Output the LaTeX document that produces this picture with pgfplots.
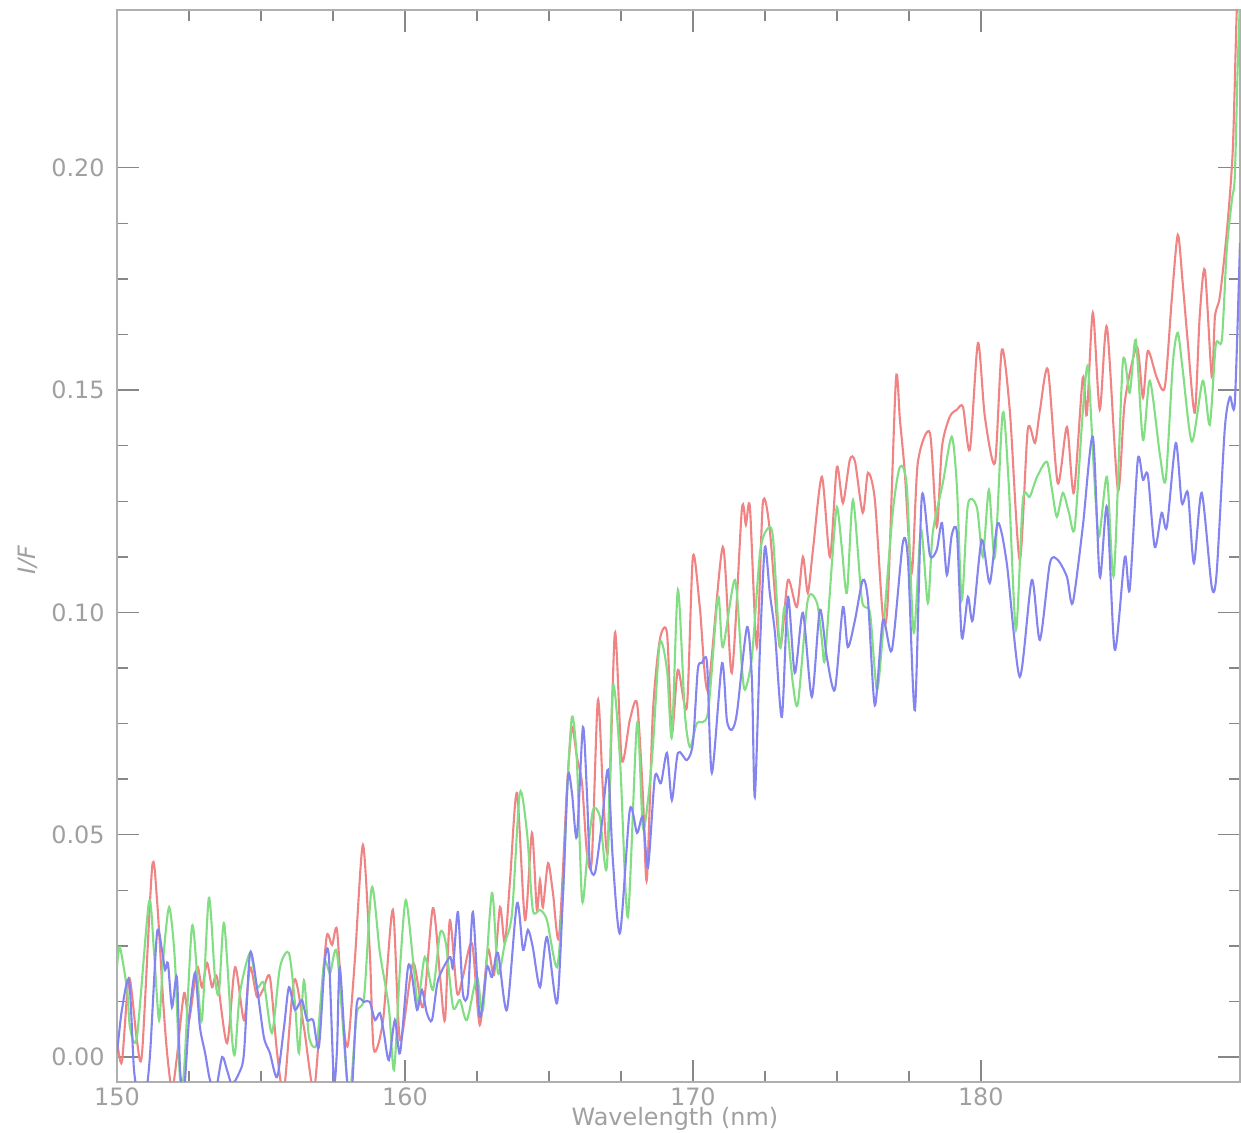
\documentclass[border=0pt]{standalone}
\usepackage{fontspec}
\setmainfont{DejaVu Sans}
\usepackage{pgfplots}
\pgfplotsset{compat=1.18}

\definecolor{redl}{RGB}{240,132,132}
\definecolor{greenl}{RGB}{130,222,130}
\definecolor{bluel}{RGB}{132,132,240}
\definecolor{axgray}{RGB}{175,175,175}
\definecolor{tkgray}{RGB}{135,135,135}
\definecolor{lbgray}{RGB}{160,160,160}

\begin{document}
\begin{tikzpicture}
\begin{axis}[
  scale only axis, width=11.23cm, height=10.72cm,
  xmin=150, xmax=189, ymin=-0.0056, ymax=0.2355,
  xtick={150,160,170,180}, minor x tick num=3,
  ytick={0,0.05,0.10,0.15,0.20}, minor y tick num=3,
  tick align=inside, major tick length=0.22cm, minor tick length=0.11cm,
  axis line style={axgray, line width=0.6pt},
  every tick/.style={tkgray, line width=0.4pt},
  /pgf/number format/assume math mode=true,
  tick label style={font=\fontsize{6.8}{8}\selectfont, text=lbgray},
  yticklabel style={/pgf/number format/fixed, /pgf/number format/fixed zerofill, /pgf/number format/precision=2},
  xticklabel style={/pgf/number format/1000 sep={}, yshift=0.07cm},
  every axis x label/.style={at={(rel axis cs:0.4968,-0.0405)}, anchor=base},
  every axis y label/.style={at={(rel axis cs:-0.0793,0.487)}, anchor=center, rotate=90},
  label style={font=\fontsize{6.8}{8}\selectfont, text=lbgray},
  xlabel={Wavelength (nm)},
  ylabel={\itshape I/F},
  every axis plot/.append style={line width=0.6pt, smooth, tension=0.45},
]
\coordinate (bbsw) at (rel axis cs:-0.1042,-0.0476);
\coordinate (bbne) at (rel axis cs:1.0009,1.0093);

\addplot[redl] table {
x y
150.00 0.0038
150.17 -0.0011
150.42 0.0178
150.69 0.0038
150.87 0.0009
151.22 0.0427
151.39 0.0353
151.60 0.0128
151.74 0.0009
151.91 -0.0074
152.08 0.0000
152.33 0.0144
152.50 0.0083
152.78 0.0202
152.95 0.0157
153.13 0.0211
153.30 0.0157
153.47 0.0180
153.82 0.0031
154.10 0.0202
154.41 0.0083
154.62 0.0202
154.86 0.0135
155.07 0.0151
155.31 0.0180
155.56 0.0009
155.80 -0.0074
156.15 0.0173
156.49 0.0067
156.84 -0.0074
157.12 0.0151
157.29 0.0274
157.47 0.0252
157.64 0.0286
157.85 0.0083
158.02 0.0027
158.26 0.0218
158.54 0.0477
158.78 0.0234
158.92 0.0016
159.24 0.0083
159.58 0.0331
159.83 0.0038
160.28 0.0211
160.63 0.0112
160.97 0.0335
161.22 0.0180
161.39 0.0083
161.56 0.0308
161.81 0.0144
162.01 0.0180
162.33 0.0256
162.60 0.0072
162.88 0.0241
163.09 0.0184
163.30 0.0337
163.47 0.0256
163.65 0.0398
163.89 0.0594
164.17 0.0308
164.41 0.0504
164.58 0.0331
164.69 0.0398
164.79 0.0337
164.97 0.0436
165.14 0.0369
165.35 0.0270
165.63 0.0607
165.80 0.0742
165.97 0.0675
166.15 0.0616
166.32 0.0459
166.49 0.0443
166.70 0.0803
166.88 0.0594
167.05 0.0466
167.29 0.0954
167.53 0.0668
167.81 0.0758
168.06 0.0796
168.26 0.0594
168.40 0.0398
168.61 0.0774
168.85 0.0938
169.10 0.0954
169.27 0.0729
169.48 0.0871
169.79 0.0787
170.00 0.1125
170.24 0.1012
170.52 0.0826
171.04 0.1147
171.35 0.0864
171.70 0.1231
171.84 0.1197
171.98 0.1237
172.22 0.0922
172.43 0.1246
172.67 0.1186
173.02 0.0922
173.30 0.1073
173.61 0.1012
173.82 0.1125
173.99 0.1044
174.17 0.1141
174.48 0.1305
174.76 0.1125
175.00 0.1327
175.21 0.1246
175.45 0.1343
175.63 0.1339
175.90 0.1224
176.08 0.1314
176.32 0.1253
176.60 0.0990
176.77 0.1028
177.05 0.1523
177.19 0.1433
177.36 0.1314
177.60 0.1089
177.81 0.1336
178.23 0.1404
178.47 0.1192
178.65 0.1372
178.92 0.1440
179.17 0.1456
179.38 0.1462
179.62 0.1366
179.90 0.1606
180.14 0.1440
180.49 0.1336
180.73 0.1591
181.01 0.1451
181.35 0.1118
181.63 0.1411
181.88 0.1381
182.05 0.1453
182.33 0.1546
182.67 0.1291
182.99 0.1417
183.23 0.1269
183.54 0.1528
183.68 0.1444
183.89 0.1674
184.13 0.1456
184.38 0.1642
184.76 0.1276
185.00 0.1474
185.42 0.1597
185.63 0.1483
185.80 0.1588
186.11 0.1528
186.39 0.1507
186.63 0.1703
186.84 0.1849
187.01 0.1741
187.19 0.1606
187.43 0.1449
187.60 0.1665
187.78 0.1770
188.02 0.1530
188.13 0.1665
188.30 0.1710
188.54 0.1854
188.75 0.2040
188.89 0.2355
189.00 0.2423
};

\addplot[greenl] table {
x y
150.00 0.0202
150.10 0.0247
150.35 0.0151
150.45 0.0067
150.69 0.0045
151.11 0.0349
151.28 0.0241
151.46 0.0083
151.60 0.0218
151.81 0.0337
152.01 0.0218
152.19 -0.0052
152.33 -0.0029
152.60 0.0292
152.78 0.0189
152.95 0.0083
153.19 0.0358
153.40 0.0180
153.54 0.0144
153.72 0.0301
153.99 0.0045
154.10 0.0009
154.27 0.0144
154.62 0.0234
154.86 0.0157
155.10 0.0166
155.38 0.0054
155.66 0.0202
155.97 0.0234
156.18 0.0121
156.32 0.0009
156.49 0.0173
156.67 0.0045
156.94 0.0031
157.19 0.0211
157.40 0.0189
157.64 0.0234
157.99 -0.0052
158.13 -0.0058
158.33 0.0099
158.58 0.0135
158.85 0.0382
159.13 0.0234
159.44 0.0112
159.62 -0.0029
159.83 0.0202
160.03 0.0353
160.28 0.0218
160.45 0.0121
160.69 0.0225
160.97 0.0151
161.22 0.0279
161.42 0.0256
161.67 0.0112
161.91 0.0128
162.15 0.0083
162.50 0.0180
162.71 0.0106
163.02 0.0369
163.23 0.0189
163.47 0.0256
163.72 0.0324
163.99 0.0594
164.24 0.0504
164.44 0.0331
164.69 0.0331
164.93 0.0308
165.28 0.0202
165.49 0.0369
165.63 0.0594
165.80 0.0765
165.97 0.0668
166.15 0.0353
166.32 0.0443
166.53 0.0556
166.77 0.0540
167.01 0.0427
167.22 0.0832
167.47 0.0668
167.74 0.0315
168.06 0.0751
168.26 0.0517
168.44 0.0578
168.61 0.0697
168.85 0.0931
169.10 0.0871
169.27 0.0720
169.48 0.1051
169.72 0.0774
169.90 0.0697
170.14 0.0751
170.52 0.0774
170.87 0.1035
171.04 0.0922
171.46 0.1073
171.70 0.0877
171.81 0.0826
172.05 0.0900
172.33 0.1134
172.57 0.1186
172.78 0.1170
173.02 0.0922
173.19 0.1012
173.47 0.0841
173.65 0.0796
173.99 0.1028
174.31 0.1021
174.48 0.0938
174.58 0.0893
174.83 0.1111
175.00 0.1237
175.17 0.1147
175.35 0.1044
175.56 0.1253
175.87 0.1028
176.15 0.0999
176.39 0.0826
176.60 0.0954
176.94 0.1224
177.19 0.1327
177.43 0.1282
177.67 0.0954
177.92 0.1186
178.16 0.1021
178.33 0.1179
178.68 0.1291
178.99 0.1395
179.17 0.1282
179.34 0.1028
179.55 0.1242
179.86 0.1237
180.07 0.1125
180.28 0.1276
180.49 0.1125
180.76 0.1449
180.97 0.1287
181.22 0.0961
181.46 0.1253
181.70 0.1260
181.94 0.1303
182.29 0.1339
182.47 0.1276
182.64 0.1215
182.85 0.1269
183.06 0.1224
183.26 0.1190
183.54 0.1451
183.72 0.1552
183.92 0.1327
184.10 0.1170
184.38 0.1305
184.62 0.1084
184.93 0.1561
185.17 0.1494
185.38 0.1613
185.63 0.1388
185.87 0.1521
186.22 0.1354
186.42 0.1298
186.67 0.1561
186.84 0.1629
187.01 0.1546
187.33 0.1384
187.71 0.1521
187.95 0.1422
188.16 0.1602
188.37 0.1613
188.54 0.1815
188.72 0.1928
188.82 0.1980
188.92 0.2227
189.00 0.2378
};

\addplot[bluel] table {
x y
150.00 0.0009
150.17 0.0106
150.42 0.0173
150.59 -0.0029
150.76 -0.0085
151.01 -0.0074
151.15 0.0009
151.39 0.0279
151.56 0.0241
151.67 0.0196
151.77 0.0211
151.91 0.0112
152.08 0.0180
152.19 -0.0029
152.33 -0.0074
152.50 0.0083
152.71 0.0189
152.88 0.0067
153.06 0.0009
153.23 -0.0052
153.44 -0.0070
153.65 0.0000
153.82 -0.0029
153.99 -0.0061
154.24 -0.0036
154.41 0.0009
154.62 0.0234
154.86 0.0157
155.10 0.0045
155.31 0.0009
155.56 -0.0045
155.80 0.0067
155.97 0.0157
156.18 0.0106
156.42 0.0128
156.60 0.0083
156.81 0.0083
157.01 0.0022
157.22 0.0218
157.36 0.0225
157.53 -0.0052
157.64 0.0016
157.74 0.0202
157.99 -0.0052
158.16 -0.0070
158.33 0.0121
158.58 0.0124
158.78 0.0124
158.96 0.0083
159.13 0.0099
159.27 0.0054
159.44 -0.0007
159.65 0.0083
159.83 0.0009
160.10 0.0200
160.24 0.0184
160.42 0.0106
160.59 0.0151
160.76 0.0099
160.94 0.0083
161.15 0.0173
161.56 0.0225
161.67 0.0202
161.84 0.0326
162.01 0.0144
162.19 0.0144
162.36 0.0326
162.60 0.0090
162.85 0.0202
163.02 0.0180
163.23 0.0234
163.54 0.0106
163.89 0.0346
164.10 0.0241
164.27 0.0286
164.44 0.0247
164.69 0.0157
164.93 0.0270
165.28 0.0121
165.49 0.0369
165.66 0.0630
165.80 0.0594
165.97 0.0495
166.18 0.0742
166.32 0.0594
166.42 0.0436
166.60 0.0414
166.84 0.0526
167.05 0.0646
167.22 0.0443
167.47 0.0279
167.81 0.0556
168.06 0.0504
168.26 0.0540
168.44 0.0427
168.68 0.0630
168.89 0.0616
169.10 0.0684
169.27 0.0578
169.48 0.0684
169.79 0.0668
170.00 0.0706
170.17 0.0871
170.31 0.0886
170.49 0.0886
170.66 0.0639
171.01 0.0886
171.18 0.0758
171.35 0.0736
171.53 0.0774
171.88 0.0967
172.05 0.0848
172.15 0.0585
172.33 0.0922
172.50 0.1147
172.67 0.1044
172.85 0.0954
173.09 0.0765
173.30 0.1035
173.54 0.0864
173.82 0.0999
174.13 0.0810
174.41 0.1006
174.65 0.0900
174.93 0.0826
175.21 0.1012
175.38 0.0922
175.63 0.0983
175.90 0.1073
176.08 0.1028
176.32 0.0791
176.60 0.0983
176.91 0.0915
177.29 0.1156
177.47 0.1118
177.71 0.0780
177.95 0.1260
178.23 0.1129
178.47 0.1141
178.65 0.1201
178.82 0.1084
178.99 0.1174
179.17 0.1179
179.34 0.0943
179.55 0.1035
179.72 0.0983
180.03 0.1163
180.31 0.1066
180.59 0.1201
180.90 0.1111
181.35 0.0855
181.77 0.1073
182.05 0.0938
182.40 0.1111
182.67 0.1118
182.99 0.1080
183.19 0.1021
183.54 0.1192
183.89 0.1395
184.13 0.1080
184.38 0.1237
184.65 0.0916
185.00 0.1125
185.17 0.1051
185.45 0.1343
185.63 0.1298
185.80 0.1309
186.04 0.1147
186.28 0.1224
186.46 0.1192
186.77 0.1381
186.98 0.1246
187.19 0.1269
187.40 0.1111
187.67 0.1269
188.02 0.1057
188.19 0.1089
188.47 0.1411
188.65 0.1485
188.82 0.1471
189.00 0.1831
};
\end{axis}
\pgfresetboundingbox
\useasboundingbox (bbsw) rectangle (bbne);
\end{tikzpicture}
\end{document}
